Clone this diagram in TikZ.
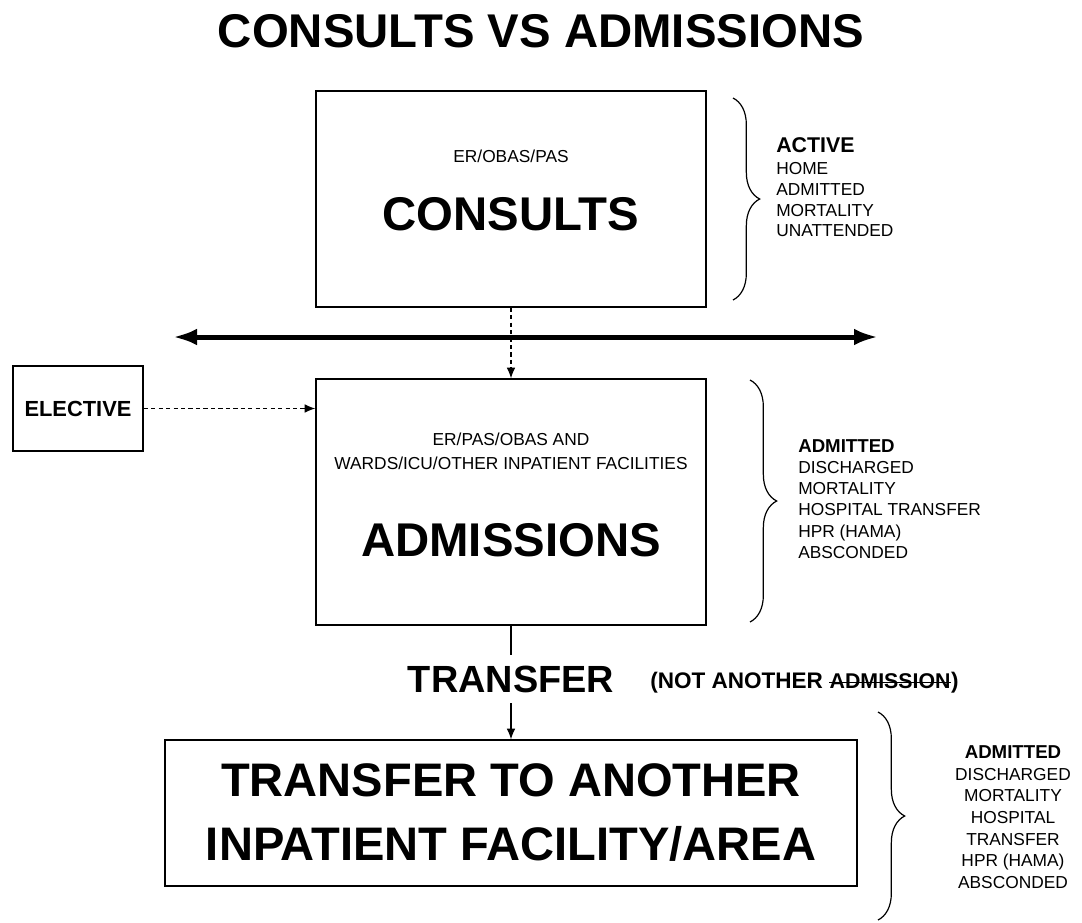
\documentclass[tikz,border=0pt]{standalone}
\usepackage{fontspec}
\setmainfont{Liberation Sans}
\usetikzlibrary{arrows.meta, decorations.pathreplacing}

\begin{document}
\begin{tikzpicture}[x=0.75pt,y=-0.75pt,
  box/.style={draw, line width=1pt, inner sep=0pt},
  dasharrow/.style={line width=0.85pt, dash pattern=on 3.2pt off 2.4pt, -{Latex[length=8pt,width=6.5pt]}},
  solidarrow/.style={line width=0.85pt, -{Latex[length=8pt,width=6.5pt]}},
  bracket/.style={decorate, decoration={brace, amplitude=20pt}, line width=0.9pt},
  small/.style={font=\fontsize{13}{15.5}\selectfont, inner sep=0pt},
  big/.style={font=\fontsize{35.5}{48}\selectfont\bfseries},
  remark/.style={font=\fontsize{16.9}{19}\selectfont\bfseries, inner sep=0pt}]
\useasboundingbox (0,0) rectangle (1082,922);
\node[big] (title) at (541,31) {CONSULTS VS ADMISSIONS};
\node[box, minimum width=292.5pt, minimum height=162pt] (consults) at (511,199) {};
\node[small] (consultsub) at (511,156) {ER/OBAS/PAS};
\node[big] (consultname) at (511,214) {CONSULTS};
\node[box, minimum width=292.5pt, minimum height=184.5pt] (admissions) at (511,502) {};
\node[small, align=center, font=\fontsize{13}{18}\selectfont] (admissionsub) at (511,451) {ER/PAS/OBAS AND\\WARDS/ICU/OTHER INPATIENT FACILITIES};
\node[big] (admissionname) at (511,540) {ADMISSIONS};
\node[box, minimum width=97.5pt, minimum height=63.75pt, font=\fontsize{16.4}{20}\selectfont\bfseries] (elective) at (78,408.5) {ELECTIVE};
\node[box, minimum width=519pt, minimum height=109.5pt, align=center, font=\fontsize{35.3}{48}\selectfont\bfseries] (transferbox) at (511,813) {TRANSFER TO ANOTHER\\INPATIENT FACILITY/AREA};
\node[font=\fontsize{28.4}{34}\selectfont\bfseries, minimum height=36pt, inner sep=0pt] (transfer) at (511,679) {TRANSFER};
\node[remark, anchor=base west] (notanother) at (650,688) {(NOT ANOTHER};
\node[remark, anchor=base west, font=\fontsize{16}{18}\selectfont\bfseries] (struck) at ([xshift=4.6pt]notanother.base east) {ADMISSION};
\node[remark, anchor=base west] (closeparen) at (struck.base east) {)};
\draw[line width=1.2pt] ([yshift=4.2pt]struck.base west) -- ([yshift=4.2pt]struck.base east);
\node[small, align=left, anchor=west] (activelist) at (776,187) {{\fontsize{16}{19}\selectfont\bfseries ACTIVE}\\[1.5pt]HOME\\ADMITTED\\MORTALITY\\UNATTENDED};
\node[small, align=left, anchor=west, font=\fontsize{13}{15.9}\selectfont] (admittedlist) at (798,499) {{\fontsize{14}{16}\selectfont\bfseries ADMITTED}\\DISCHARGED\\MORTALITY\\HOSPITAL TRANSFER\\HPR (HAMA)\\ABSCONDED};
\node[small, align=center, font=\fontsize{13}{16.25}\selectfont] (transferlist) at (1013,817) {{\fontsize{14}{16}\selectfont\bfseries ADMITTED}\\DISCHARGED\\MORTALITY\\HOSPITAL\\TRANSFER\\HPR (HAMA)\\ABSCONDED};
\coordinate (westend) at (173,337);
\coordinate (eastend) at (878,337);
\draw[dasharrow] (consults.south) -- (admissions.north);
\draw[line width=3.75pt, {Latex[length=18pt,width=12.5pt]}-{Latex[length=18pt,width=12.5pt]}] (westend) -- (eastend);
\draw[dasharrow] (elective.east) -- (elective.east -| admissions.west);
\draw[line width=0.85pt] (admissions.south) -- (transfer.north);
\draw[solidarrow] (transfer.south) -- (transferbox.north);
\draw[bracket] (733,98) -- (733,300);
\draw[bracket] (750,380) -- (750,622);
\draw[bracket] (878,712) -- (878,920);
\end{tikzpicture}
\end{document}
